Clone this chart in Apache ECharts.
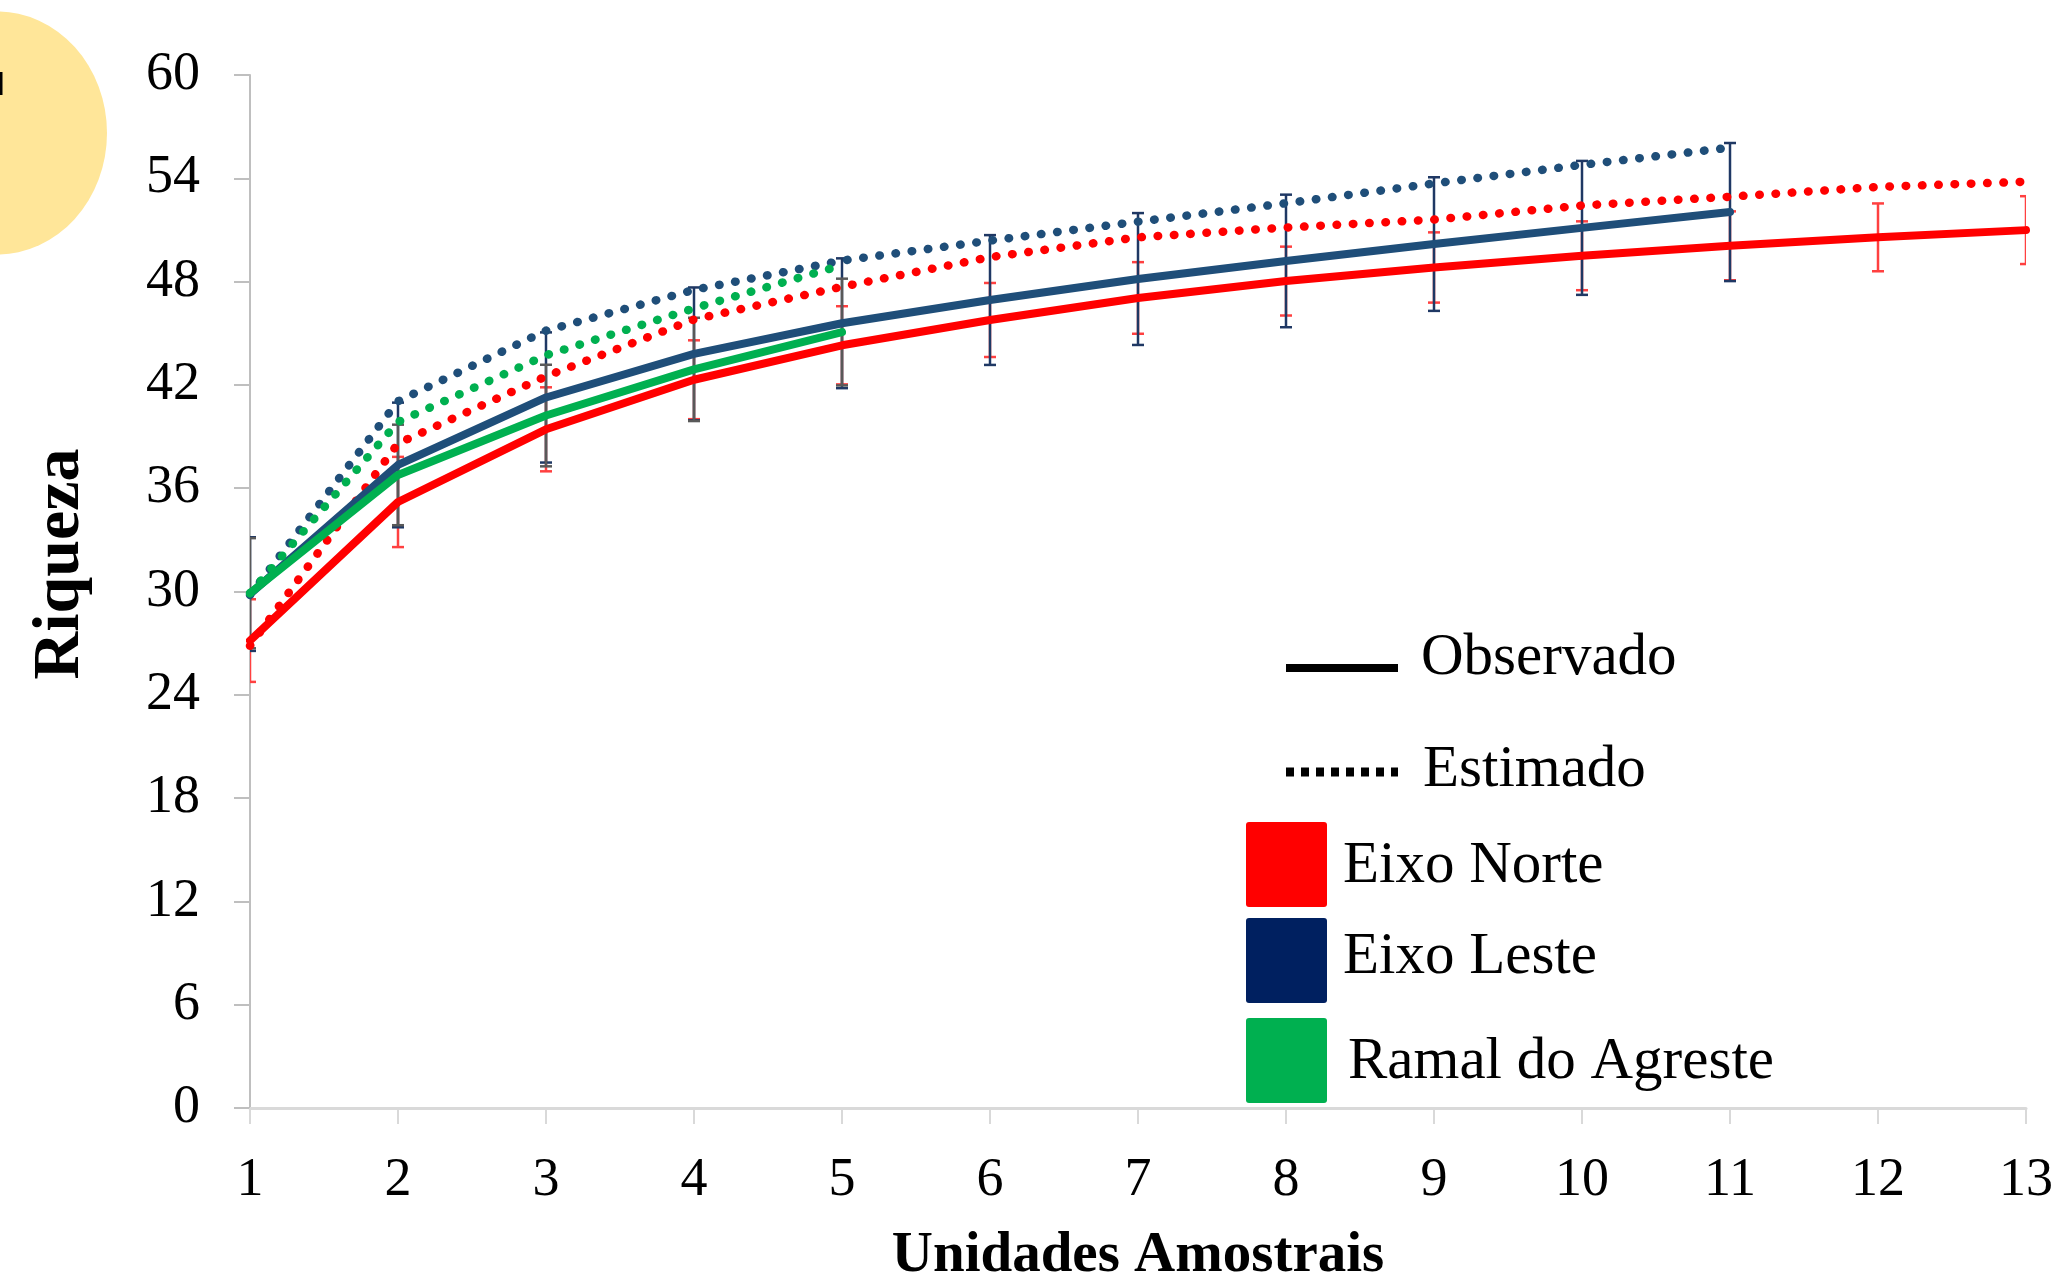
<!DOCTYPE html>
<html>
<head>
<meta charset="utf-8">
<script src="https://cdn.jsdelivr.net/npm/echarts@6/dist/echarts.min.js"></script>
<style>
  html, body { margin: 0; padding: 0; background: #fff; }
  #chart { width: 2056px; height: 1281px; }
</style>
</head>
<body>
<div id="chart"></div>
<script>
// unidades amostrais (eixo x)
var unidades = [1, 2, 3, 4, 5, 6, 7, 8, 9, 10, 11, 12, 13];

// Eixo Norte
var norteObs = [27.15, 35.2, 39.42, 42.3, 44.3, 45.77, 47.05, 48.03, 48.82, 49.5, 50.08, 50.57, 50.99];
var norteEst = [26.85, 38.6, 42.5, 45.8, 47.7, 49.42, 50.57, 51.14, 51.6, 52.42, 52.93, 53.5, 53.8];
var norteErr = [2.4, 2.62, 2.44, 2.29, 2.27, 2.15, 2.08, 2.0, 2.04, 2.0, 2.0, 1.97, 1.97];

// Eixo Leste
var lesteObs = [29.85, 37.35, 41.27, 43.8, 45.58, 46.93, 48.15, 49.2, 50.18, 51.12, 52.04];
var lesteEst = [29.8, 41.05, 45.15, 47.52, 49.22, 50.38, 51.48, 52.55, 53.7, 54.78, 55.78];
var lesteErr = [3.3, 3.62, 3.78, 3.86, 3.77, 3.77, 3.83, 3.85, 3.88, 3.89, 4.01];

// Ramal do Agreste
var ramalObs = [29.9, 36.77, 40.22, 42.9, 45.07];
var ramalEst = [29.9, 39.85, 43.72, 46.45, 48.95];
var ramalErr = [3.2, 2.92, 2.95, 3.0, 3.1];

var serif = '"Liberation Serif", "DejaVu Serif", serif';

function pares(vals) {
  return vals.map(function (v, i) { return [unidades[i], v]; });
}
function barras(vals, errs) {
  return vals.map(function (v, i) { return [unidades[i], v - errs[i], v + errs[i]]; });
}
function errorBar(cor) {
  return function (params, api) {
    var x = api.value(0);
    var lo = api.coord([x, api.value(1)]);
    var hi = api.coord([x, api.value(2)]);
    var h = 6;
    var st = { stroke: cor, lineWidth: 2.5 };
    return {
      type: 'group',
      children: [
        { type: 'line', shape: { x1: lo[0], y1: lo[1], x2: hi[0], y2: hi[1] }, style: st },
        { type: 'line', shape: { x1: lo[0] - h, y1: lo[1], x2: lo[0] + h, y2: lo[1] }, style: st },
        { type: 'line', shape: { x1: hi[0] - h, y1: hi[1], x2: hi[0] + h, y2: hi[1] }, style: st }
      ]
    };
  };
}
function linha(nome, vals, cor, pontilhado) {
  return {
    name: nome,
    type: 'line',
    data: pares(vals),
    showSymbol: false,
    symbol: 'none',
    z: 3,
    lineStyle: pontilhado
      ? { color: cor, width: 8.5, type: [0.5, 15.8], cap: 'round' }
      : { color: cor, width: 8, cap: 'round', join: 'round' }
  };
}
function erro(vals, errs, cor) {
  return {
    type: 'custom',
    renderItem: errorBar(cor),
    data: barras(vals, errs),
    clip: true,
    z: 2,
    encode: { x: 0, y: [1, 2] }
  };
}

var legX = 1286;
function legText(txt, x, y) {
  return { type: 'text', x: x, y: y, style: { text: txt, font: '59px ' + serif, fill: '#000', align: 'left', verticalAlign: 'middle' } };
}

var chart = echarts.init(document.getElementById('chart'));
chart.setOption({
  animation: false,
  backgroundColor: '#fff',
  grid: { left: 250, right: 29, top: 75, bottom: 173 },
  xAxis: {
    type: 'value', min: 1, max: 13, interval: 1,
    axisLine: { lineStyle: { color: '#d9d9d9', width: 3 } },
    axisTick: { show: true, length: 16, lineStyle: { color: '#d9d9d9', width: 2 } },
    axisLabel: { color: '#000', fontSize: 54, fontFamily: serif, margin: 46 },
    splitLine: { show: false }
  },
  yAxis: {
    type: 'value', min: 0, max: 60, interval: 6,
    axisLine: { show: true, lineStyle: { color: '#bfbfbf', width: 2 } },
    axisTick: { show: true, length: 16, lineStyle: { color: '#bfbfbf', width: 2 } },
    axisLabel: { color: '#000', fontSize: 54, fontFamily: serif, margin: 50, padding: [6, 0, 0, 0] },
    splitLine: { show: false }
  },
  graphic: [
    { type: 'circle', x: -3, y: 133, scaleY: 121.5 / 110, shape: { cx: 0, cy: 0, r: 110 }, style: { fill: '#ffe699' }, z: -1 },
    { type: 'rect', shape: { x: 0, y: 72, width: 2.5, height: 23 }, style: { fill: '#000' } },
    { type: 'text', x: 61, y: 564, rotation: Math.PI / 2,
      style: { text: 'Riqueza', font: 'bold 66px ' + serif, fill: '#000', align: 'center', verticalAlign: 'middle' } },
    { type: 'text', x: 1138, y: 1256,
      style: { text: 'Unidades Amostrais', font: 'bold 57px ' + serif, fill: '#000', align: 'center', verticalAlign: 'middle' } },
    // legenda
    { type: 'line', shape: { x1: legX, y1: 668, x2: legX + 112, y2: 668 }, style: { stroke: '#000', lineWidth: 8 } },
    legText('Observado', 1421, 658),
    { type: 'line', shape: { x1: legX, y1: 772, x2: legX + 112, y2: 772 }, style: { stroke: '#000', lineWidth: 9, lineDash: [8, 7] } },
    legText('Estimado', 1423, 770),
    { type: 'rect', shape: { x: 1246, y: 822, width: 81, height: 85, r: 3 }, style: { fill: '#ff0000' } },
    legText('Eixo Norte', 1343, 866),
    { type: 'rect', shape: { x: 1246, y: 918, width: 81, height: 85, r: 3 }, style: { fill: '#002060' } },
    legText('Eixo Leste', 1343, 957),
    { type: 'rect', shape: { x: 1246, y: 1018, width: 81, height: 85, r: 3 }, style: { fill: '#00b050' } },
    legText('Ramal do Agreste', 1348, 1062)
  ],
  series: [
    erro(norteObs, norteErr, '#ff4040'),
    erro(lesteObs, lesteErr, '#1f3864'),
    erro(ramalObs, ramalErr, '#595959'),
    linha('Eixo Norte Observado', norteObs, '#ff0000', false),
    linha('Eixo Norte Estimado', norteEst, '#ff0000', true),
    linha('Eixo Leste Observado', lesteObs, '#1f4e79', false),
    linha('Eixo Leste Estimado', lesteEst, '#1f4e79', true),
    linha('Ramal do Agreste Observado', ramalObs, '#00b050', false),
    linha('Ramal do Agreste Estimado', ramalEst, '#00b050', true)
  ]
});
</script>
</body>
</html>
